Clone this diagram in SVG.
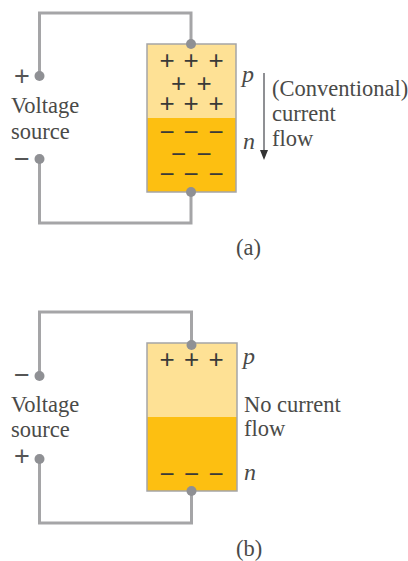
<svg xmlns="http://www.w3.org/2000/svg" width="408" height="561" viewBox="0 0 408 561">
<style>
text{font-family:"Liberation Serif","Times New Roman",serif;font-size:22.500px;fill:#4a4a48}
.s{font-family:"Liberation Sans",Arial,sans-serif;font-size:26px;fill:#3a3a38;text-anchor:middle}
.v{font-family:"Liberation Sans",Arial,sans-serif;font-size:27px;fill:#555;text-anchor:middle}
.i{font-style:italic;font-size:24px}
.w{fill:none;stroke:#a5a5a7;stroke-width:3}
.d{fill:#8f9094}
.b{fill:none;stroke:#a5a5a7;stroke-width:1.5}
.p{fill:#fee195}
.n{fill:#fdbf11}
</style>
<rect width="408" height="561" fill="#fff"/>
<g id="connectors">
<path class="w" d="M39.5 76V13H191V44"/>
<path class="w" d="M39.5 159V223H191V192"/>
<path d="M264 73V150" fill="none" stroke="#8f9094" stroke-width="2"/>
<path d="M260 150H268L264 160Z" fill="#333"/>
<path class="w" d="M39.500 376V312H191.500V345"/>
<path class="w" d="M39.500 459V523H191.500V491"/>
</g>
<g id="diode-a">
<rect class="p" x="147" y="44" width="89" height="74"/>
<rect class="n" x="147" y="118" width="89" height="74"/>
<rect class="b" x="147" y="44" width="89" height="148"/>
<circle class="d" cx="191" cy="44" r="5"/>
<circle class="d" cx="191" cy="192" r="5"/>
<text class="s" x="167" y="69">+</text><text class="s" x="191" y="69">+</text><text class="s" x="216" y="69">+</text>
<text class="s" x="178.500" y="92">+</text><text class="s" x="204" y="92">+</text>
<text class="s" x="167" y="112">+</text><text class="s" x="191" y="112">+</text><text class="s" x="216" y="112">+</text>
<text class="s" x="167" y="141">−</text><text class="s" x="191" y="141">−</text><text class="s" x="216" y="141">−</text>
<text class="s" x="178.500" y="163">−</text><text class="s" x="204" y="163">−</text>
<text class="s" x="167" y="183">−</text><text class="s" x="191" y="183">−</text><text class="s" x="216" y="183">−</text>
</g>
<g id="source-a">
<circle class="d" cx="39.500" cy="76" r="5"/>
<circle class="d" cx="39.500" cy="159" r="5"/>
<text class="v" x="22" y="85">+</text>
<text class="v" x="22" y="168">−</text>
<text x="11" y="113">Voltage</text>
<text x="11" y="139">source</text>
</g>
<g id="labels-a">
<text class="i" x="242" y="82">p</text>
<text class="i" x="243" y="149">n</text>
<text x="272" y="96">(Conventional)</text>
<text x="272" y="121">current</text>
<text x="272" y="146">flow</text>
<text x="236" y="255">(a)</text>
</g>
<g id="diode-b">
<rect class="p" x="147" y="343" width="90" height="74"/>
<rect class="n" x="147" y="417" width="90" height="74"/>
<rect class="b" x="147" y="343" width="90" height="148"/>
<circle class="d" cx="191.500" cy="345" r="5"/>
<circle class="d" cx="191.500" cy="491" r="5"/>
<text class="s" x="167" y="368">+</text><text class="s" x="191.500" y="368">+</text><text class="s" x="216" y="368">+</text>
<text class="s" x="167" y="483">−</text><text class="s" x="191.500" y="483">−</text><text class="s" x="216" y="483">−</text>
</g>
<g id="source-b">
<circle class="d" cx="39.500" cy="376" r="5"/>
<circle class="d" cx="39.500" cy="459" r="5"/>
<text class="v" x="22" y="384">−</text>
<text class="v" x="22" y="465">+</text>
<text x="11" y="412">Voltage</text>
<text x="11" y="437">source</text>
</g>
<g id="labels-b">
<text class="i" x="243" y="364">p</text>
<text class="i" x="244" y="480">n</text>
<text x="244" y="412">No current</text>
<text x="244" y="436">flow</text>
<text x="236" y="556">(b)</text>
</g>
</svg>
